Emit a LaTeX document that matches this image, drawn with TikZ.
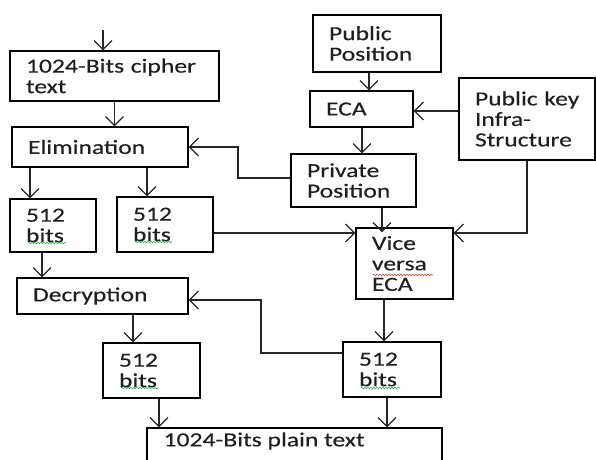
\documentclass[tikz,border=0pt]{standalone}
\usepackage{fontspec}
\setmainfont{Carlito}[FakeStretch=1.28,FakeBold=0.3]
\usetikzlibrary{arrows.meta,decorations.pathmorphing}
\tikzset{
  box/.style={draw=black, line width=1.2pt, align=left, inner xsep=16pt, inner ysep=0pt,
    font=\fontsize{20}{20.5}\selectfont, text=black!88},
  arr/.style={draw=black!85, line width=1.2pt, -{Straight Barb[length=9pt,width=18pt,line width=1.2pt]}},
  wavyg/.style={draw={rgb,255:red,40;green,180;blue,80}, line width=0.6pt,
    decorate, decoration={snake, amplitude=0.8pt, segment length=3pt}},
  wavyr/.style={draw={rgb,255:red,230;green,60;blue,60}, line width=0.6pt,
    decorate, decoration={snake, amplitude=0.8pt, segment length=3pt}}
}
\begin{document}
\begin{tikzpicture}[x=1pt,y=-1pt]
\useasboundingbox (0,0) rectangle (596,459);
\clip (0,0) rectangle (596,459);
% left column
\node[box, text width=177pt, minimum height=50pt] (cipher) at (114.5,76) {1024-Bits~cipher\\text};
\node[box, text width=144pt, minimum height=40pt] (elim) at (100,147) {Elimination};
\node[box, text width=54pt, minimum height=53pt] (bitsA) at (53,225.5) {512\\bits};
\node[box, text width=64pt, minimum height=55pt] (bitsB) at (165,224.5) {512\\bits};
\node[box, text width=139pt, minimum height=36pt] (decr) at (102.5,296) {Decryption};
\node[box, text width=65pt, minimum height=55pt] (bitsC) at (151.5,370.5) {512\\bits};
\node[box, text width=66pt, minimum height=55pt] (bitsD) at (392,369.5) {512\\bits};
\node[box, text width=263pt, minimum height=42pt] (plain) at (294.5,449) {};
\node[font=\fontsize{20}{20.5}\selectfont, text=black!88, anchor=west, inner sep=0pt] (plaintxt) at ([xshift=17pt]plain.west |- 0,441) {1024-Bits plain text};
% right column
\node[box, text width=96pt, minimum height=57pt] (pubpos) at (377,43.5) {Public\\Position};
\node[box, text width=71pt, minimum height=36pt] (eca) at (361.5,109) {ECA};
\node[box, text width=104pt, minimum height=82pt] (pki) at (527,119) {\mbox{Public key}\\Infra-\\Structure};
\node[box, text width=93pt, minimum height=53pt] (priv) at (353.5,180.5) {Private\\Position};
\node[box, text width=65pt, minimum height=71pt] (vice) at (404.5,263.5) {Vice\\versa\\ECA};
% helper coordinates
\coordinate (topin) at (103,30);
\coordinate (xa) at (30,0);
\coordinate (xb) at (147,0);
\coordinate (xc) at (42,0);
\coordinate (xd) at (133,0);
\coordinate (xe) at (159,0);
\coordinate (xf) at (387,0);
\coordinate (xg) at (384,0);
\coordinate (xh) at (382,0);
\coordinate (xi) at (362,0);
\coordinate (xj) at (369,0);
\coordinate (yv) at (0,233);
\coordinate (ye) at (0,111);
\coordinate (k1) at (238,178);
\coordinate (k2) at (261,353);
\coordinate (yd) at (0,300);
% connectors
\draw[arr] (topin) -- (topin |- cipher.north);
\draw[arr] (cipher.south) -- (cipher.south |- elim.north);
\draw[arr] (elim.south -| xa) -- (bitsA.north -| xa);
\draw[arr] (elim.south -| xb) -- (bitsB.north -| xb);
\draw[arr] (bitsA.south -| xc) -- (decr.north -| xc);
\draw[arr] (decr.south -| xd) -- (bitsC.north -| xd);
\draw[arr] (bitsC.south -| xe) -- (plain.north -| xe);
\draw[arr] (bitsD.south -| xf) -- (plain.north -| xf);
\draw[arr] (vice.south -| xg) -- (bitsD.north -| xg);
\draw[arr] (priv.south -| xh) -- (vice.north -| xh) -- ++(0,5);
\draw[arr] (eca.south -| xi) -- (priv.north -| xi);
\draw[arr] (pubpos.south -| xj) -- (eca.north -| xj);
\draw[arr] (pki.west |- ye) -- (eca.east |- ye);
\draw[arr] (bitsB.east |- yv) -- (vice.west |- yv);
\draw[arr] (pki.south) |- (vice.east |- yv);
\draw[arr] (priv.west |- k1) -- (k1) |- (elim.east);
\draw[arr] (bitsD.west |- k2) -- (k2) |- (decr.east |- yd);
% spell-check underlines
\draw[wavyg] (28,243) -- (66,243);
\draw[wavyg] (135,242) -- (172,242);
\draw[wavyg] (121,388) -- (158,388);
\draw[wavyg] (361,388) -- (400,388);
\draw[wavyr] (373,275) -- (433,275);
\end{tikzpicture}
\end{document}
